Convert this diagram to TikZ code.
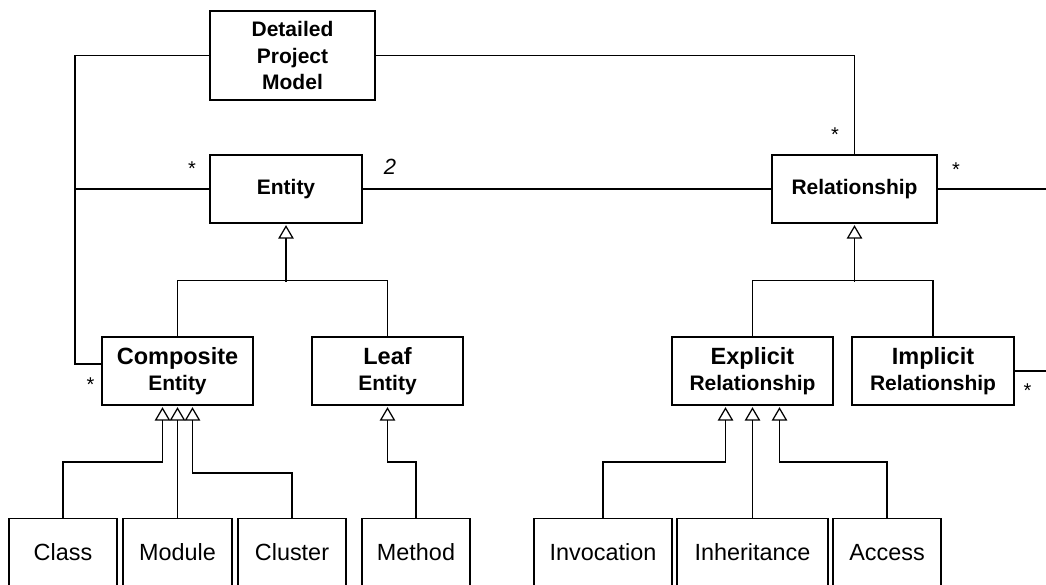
\documentclass[tikz,border=0pt]{standalone}
\usepackage{fontspec}
\setmainfont{Liberation Sans}
\usetikzlibrary{arrows.meta, calc}

\tikzset{
  cls/.style={draw, line width=1.25pt, inner sep=0pt, align=center,
    minimum height=68pt, font=\bfseries\fontsize{21}{26.5}\selectfont},
  kind/.style={draw, line width=1.25pt, inner sep=0pt, anchor=north,
    minimum height=68pt, font=\fontsize{23.4}{28}\selectfont},
  gen/.style={line width=1.25pt, shorten >=1.5pt,
    -{Triangle[open, length=13.5pt, width=15.5pt, line width=1.25pt]}},
  assoc/.style={line width=1.25pt},
  mult/.style={inner sep=0pt, font=\fontsize{20}{20}\selectfont},
}
% bigger first word, smaller second line
\newcommand{\twoline}[2]{{\fontsize{23.5}{26}\selectfont #1}\\#2}

\begin{document}
\begin{tikzpicture}[x=1pt, y=-1pt]
\useasboundingbox (0,0) rectangle (1046,584);
\clip (0,0) rectangle (1046,584);

% model classes
\node[cls, minimum width=165pt, minimum height=89pt] (model) at (292.5,55.5) {Detailed\\Project\\Model};
\node[cls, minimum width=152pt] (entity) at (286,189) {Entity};
\node[cls, minimum width=165pt] (rel) at (854.5,189) {Relationship};
\node[cls, minimum width=151pt] (comp) at (177.5,371) {\twoline{Composite}{Entity}};
\node[cls, minimum width=151pt] (leaf) at (387.5,371) {\twoline{Leaf}{Entity}};
\node[cls, minimum width=161pt] (expl) at (752.5,371) {\twoline{Explicit}{Relationship}};
\node[cls, minimum width=162pt] (impl) at (933,371) {\twoline{Implicit}{Relationship}};

% concrete kinds
\node[kind, minimum width=108pt] (class) at (63,518) {Class};
\node[kind, minimum width=109pt] (module) at (177.5,518) {Module};
\node[kind, minimum width=108pt] (cluster) at (292,518) {Cluster};
\node[kind, minimum width=108pt] (method) at (416,518) {Method};
\node[kind, minimum width=138pt] (invoc) at (603,518) {Invocation};
\node[kind, minimum width=151pt] (inherit) at (752.5,518) {Inheritance};
\node[kind, minimum width=108pt] (access) at (887,518) {Access};

% associations
\coordinate (lbus) at (75,364);
\coordinate (redge) at (1056,189);
\draw[assoc] (model.west) -| (lbus) -- (lbus -| comp.west);
\draw[assoc] (entity.west) -- (entity.west -| lbus);
\draw[assoc] (model.east) -| (rel.north);
\draw[assoc] (entity.east) -- (rel.west);
\draw[assoc] (rel.east) -- (redge) |- (impl.east);

% generalisations
\draw[assoc] (comp.north) -- ++(0,-56) -| (leaf.north);
\draw[gen] ($(entity.south)+(0,58)$) -- (entity.south);
\draw[assoc] (expl.north) -- ++(0,-56) -| (impl.north);
\draw[gen] ($(rel.south)+(0,58)$) -- (rel.south);

\draw[gen] (class.north) -- ++(0,-56) -| ([xshift=-15pt]comp.south);
\draw[gen] (module.north) -- (comp.south);
\draw[gen] (cluster.north) -- ++(0,-45) -| ([xshift=15pt]comp.south);
\draw[gen] (method.north) -- ++(0,-56) -| (leaf.south);
\draw[gen] (invoc.north) -- ++(0,-56) -| ([xshift=-27pt]expl.south);
\draw[gen] (inherit.north) -- (expl.south);
\draw[gen] (access.north) -- ++(0,-56) -| ([xshift=27pt]expl.south);

% multiplicities
\node[mult] (m1) at (192,168.5) {*};
\node[mult, font=\itshape\fontsize{22}{22}\selectfont] (m2) at (390,167) {2};
\node[mult] (m3) at (835,134.5) {*};
\node[mult] (m4) at (956,169.5) {*};
\node[mult] (m5) at (90.5,384.5) {*};
\node[mult] (m6) at (1027.5,391) {*};
\end{tikzpicture}
\end{document}
